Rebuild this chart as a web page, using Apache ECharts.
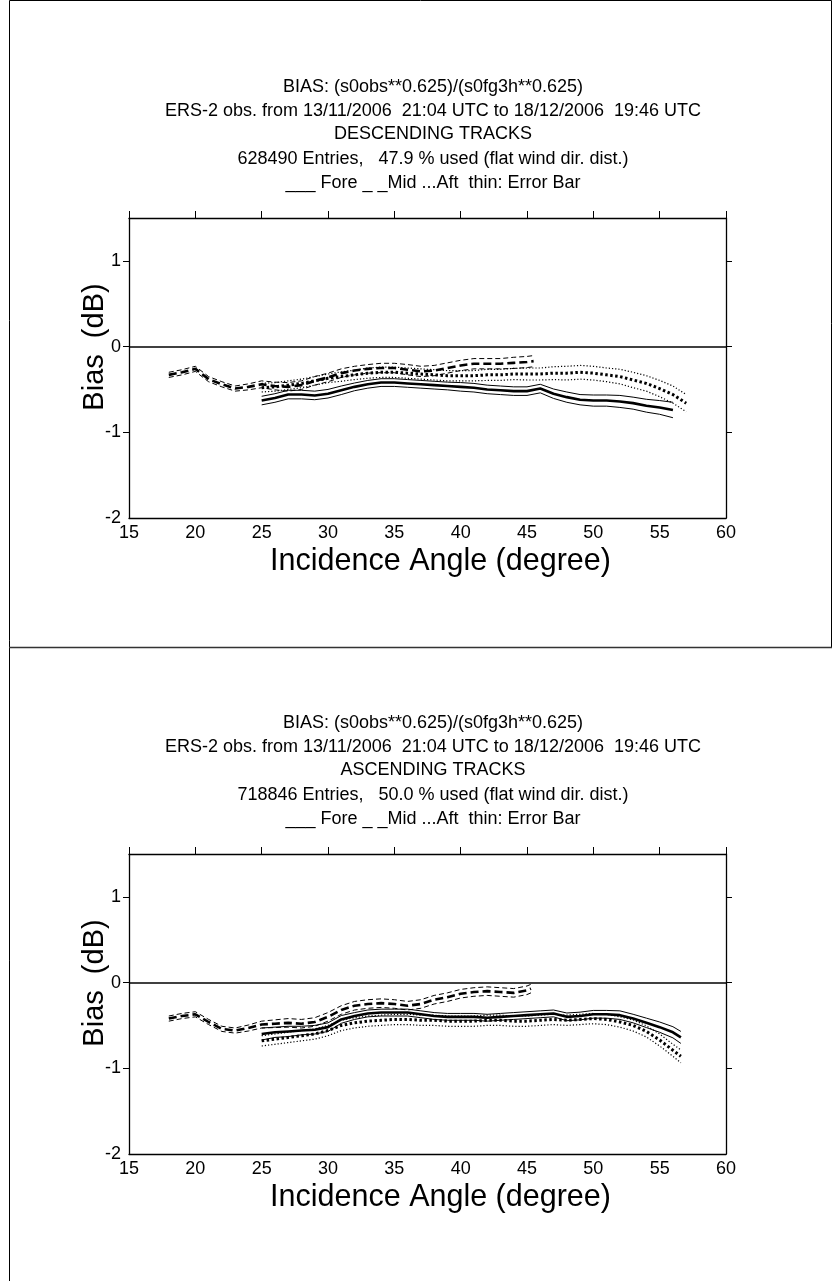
<!DOCTYPE html>
<html><head><meta charset="utf-8">
<script src="https://cdn.jsdelivr.net/npm/echarts@6/dist/echarts.min.js"></script>
<style>html,body{margin:0;padding:0;background:#fff}#c{width:832px;height:1281px}</style>
</head><body><div id="c"></div>
<script>
// ---------- data ----------
const xTickValues = [15, 20, 25, 30, 35, 40, 45, 50, 55, 60];
const yTickValues = [-2, -1, 0, 1];

const titleLinesCommon = ['BIAS: (s0obs**0.625)/(s0fg3h**0.625)',
  'ERS-2 obs. from 13/11/2006  21:04 UTC to 18/12/2006  19:46 UTC'];
const descTitle = ['DESCENDING TRACKS', '628490 Entries,   47.9 % used (flat wind dir. dist.)'];
const ascTitle = ['ASCENDING TRACKS', '718846 Entries,   50.0 % used (flat wind dir. dist.)'];
const legendLine = '___ Fore _ _Mid ...Aft  thin: Error Bar';
const xTitle = 'Incidence Angle (degree)';
const yTitle = 'Bias  (dB)';

// DESCENDING
const descForeX = [25,26,27,28,29,30,31,32,33,34,35,36,37,38,39,40,41,42,43,44,45,46,47,48,49,50,51,52,53,54,55,56];
const descForeY = [-0.63,-0.60,-0.56,-0.56,-0.57,-0.55,-0.51,-0.47,-0.44,-0.42,-0.42,-0.43,-0.44,-0.45,-0.46,-0.47,-0.48,-0.50,-0.51,-0.52,-0.52,-0.49,-0.55,-0.59,-0.62,-0.63,-0.63,-0.64,-0.66,-0.69,-0.71,-0.74];
const descForeErr = [0.05,0.05,0.05,0.05,0.05,0.05,0.05,0.045,0.045,0.045,0.045,0.045,0.045,0.045,0.045,0.05,0.05,0.05,0.05,0.05,0.05,0.05,0.055,0.06,0.06,0.065,0.065,0.07,0.07,0.075,0.08,0.09];

const descMidX = [18,19,20,21,22,23,24,25,26,27,28,29,30,31,32,33,34,35,36,37,38,39,40,41,42,43,44,45,45.5];
const descMidY = [-0.33,-0.30,-0.26,-0.38,-0.44,-0.49,-0.47,-0.44,-0.46,-0.47,-0.45,-0.40,-0.36,-0.31,-0.28,-0.26,-0.25,-0.25,-0.27,-0.29,-0.28,-0.25,-0.22,-0.20,-0.20,-0.20,-0.19,-0.18,-0.17];
const descMidErr = [0.03,0.03,0.03,0.03,0.03,0.03,0.035,0.04,0.045,0.05,0.05,0.05,0.05,0.05,0.05,0.05,0.055,0.055,0.06,0.06,0.06,0.06,0.06,0.06,0.06,0.06,0.065,0.065,0.065];

const descAftX = [25,26,27,28,29,30,31,32,33,34,35,36,37,38,39,40,41,42,43,44,45,46,47,48,49,50,51,52,53,54,55,56,57];
const descAftY = [-0.48,-0.47,-0.45,-0.43,-0.40,-0.37,-0.35,-0.33,-0.31,-0.30,-0.30,-0.31,-0.32,-0.33,-0.34,-0.34,-0.34,-0.33,-0.33,-0.32,-0.32,-0.32,-0.31,-0.31,-0.30,-0.31,-0.33,-0.35,-0.39,-0.43,-0.49,-0.56,-0.66];
const descAftErr = [0.05,0.05,0.05,0.05,0.05,0.05,0.055,0.055,0.06,0.06,0.06,0.06,0.06,0.06,0.06,0.06,0.06,0.065,0.065,0.065,0.07,0.07,0.075,0.08,0.08,0.08,0.08,0.085,0.09,0.09,0.095,0.1,0.1];

// ASCENDING
const ascForeX = [25,26,27,28,29,30,31,32,33,34,35,36,37,38,39,40,41,42,43,44,45,46,47,48,49,50,51,52,53,54,55,56,56.6];
const ascForeY = [-0.60,-0.58,-0.57,-0.56,-0.55,-0.52,-0.43,-0.39,-0.36,-0.35,-0.35,-0.35,-0.37,-0.39,-0.40,-0.40,-0.40,-0.41,-0.40,-0.39,-0.38,-0.37,-0.36,-0.40,-0.39,-0.37,-0.37,-0.38,-0.42,-0.47,-0.52,-0.58,-0.64];
const ascForeErr = [0.07,0.06,0.06,0.05,0.05,0.05,0.045,0.04,0.04,0.04,0.04,0.04,0.04,0.04,0.04,0.04,0.04,0.04,0.04,0.04,0.04,0.04,0.04,0.045,0.045,0.045,0.045,0.05,0.05,0.055,0.06,0.065,0.07];

const ascMidX = [18,19,20,21,22,23,24,25,26,27,28,29,30,31,32,33,34,35,36,37,38,39,40,41,42,43,44,45,45.3];
const ascMidY = [-0.42,-0.39,-0.37,-0.46,-0.54,-0.56,-0.53,-0.49,-0.48,-0.47,-0.48,-0.46,-0.40,-0.32,-0.27,-0.25,-0.24,-0.25,-0.27,-0.25,-0.20,-0.17,-0.13,-0.11,-0.10,-0.11,-0.12,-0.09,-0.07];
const ascMidErr = [0.03,0.03,0.03,0.03,0.03,0.03,0.035,0.04,0.045,0.05,0.05,0.05,0.05,0.05,0.05,0.05,0.05,0.05,0.05,0.05,0.05,0.05,0.05,0.05,0.05,0.05,0.05,0.05,0.05];

const ascAftX = [25,26,27,28,29,30,31,32,33,34,35,36,37,38,39,40,41,42,43,44,45,46,47,48,49,50,51,52,53,54,55,56,56.6];
const ascAftY = [-0.68,-0.66,-0.64,-0.62,-0.60,-0.56,-0.50,-0.47,-0.45,-0.44,-0.43,-0.43,-0.44,-0.44,-0.45,-0.45,-0.45,-0.44,-0.44,-0.45,-0.45,-0.44,-0.43,-0.44,-0.43,-0.42,-0.43,-0.46,-0.50,-0.57,-0.67,-0.79,-0.86];
const ascAftErr = [0.06,0.06,0.06,0.06,0.06,0.06,0.06,0.06,0.06,0.06,0.06,0.06,0.06,0.06,0.06,0.06,0.06,0.06,0.06,0.06,0.06,0.06,0.06,0.06,0.06,0.06,0.06,0.06,0.065,0.065,0.07,0.07,0.075];

// ---------- build ----------
const FONT = "'Liberation Sans', Arial, sans-serif";
const grids = [
  { top: 218, title: descTitle, beams: [
    {x: descForeX, y: descForeY, e: descForeErr, kind: 'solid'},
    {x: descMidX, y: descMidY, e: descMidErr, kind: 'dashed'},
    {x: descAftX, y: descAftY, e: descAftErr, kind: 'dotted'}]},
  { top: 854, title: ascTitle, beams: [
    {x: ascForeX, y: ascForeY, e: ascForeErr, kind: 'solid'},
    {x: ascMidX, y: ascMidY, e: ascMidErr, kind: 'dashed'},
    {x: ascAftX, y: ascAftY, e: ascAftErr, kind: 'dotted'}]}
];
const GL = 129, GW = 597, GH = 300;

const styleThick = {solid: {type: 'solid', width: 2.6}, dashed: {type: [8, 4], width: 2.6}, dotted: {type: [2.5, 2.5], width: 3}};
const styleThin = {solid: {type: 'solid', width: 1}, dashed: {type: [5, 3], width: 1}, dotted: {type: [1.2, 2], width: 1.2}};

const option = {
  animation: false,
  backgroundColor: '#fff',
  grid: [], xAxis: [], yAxis: [], series: [], graphic: []
};

grids.forEach((g, gi) => {
  option.grid.push({left: GL, top: g.top, width: GW, height: GH, containLabel: false});
  const lineSt = {color: '#000', width: 1.3};
  option.xAxis.push({type: 'value', gridIndex: gi, position: 'bottom', min: 15, max: 60, interval: 5,
    axisLine: {show: true, onZero: false, lineStyle: lineSt}, axisTick: {show: false},
    axisLabel: {color: '#000', fontSize: 18, fontFamily: FONT, margin: 6, customValues: xTickValues},
    splitLine: {show: false}});
  option.xAxis.push({type: 'value', gridIndex: gi, position: 'top', min: 15, max: 60, interval: 5,
    axisLine: {show: true, onZero: false, lineStyle: lineSt},
    axisTick: {show: true, inside: false, length: 7, lineStyle: {color: '#000', width: 1}, customValues: xTickValues},
    axisLabel: {show: false}, splitLine: {show: false}});
  option.yAxis.push({type: 'value', gridIndex: gi, position: 'left', min: -2, max: 1.5, interval: 1,
    axisLine: {show: true, onZero: false, lineStyle: lineSt},
    axisTick: {show: true, inside: false, length: 6, lineStyle: {color: '#000', width: 1}, customValues: [-1, 0, 1]},
    axisLabel: {color: '#000', fontSize: 18, fontFamily: FONT, margin: 8, customValues: yTickValues,
      formatter: v => (Number.isInteger(v) ? String(v) : '')},
    splitLine: {show: false}});
  option.yAxis.push({type: 'value', gridIndex: gi, position: 'right', min: -2, max: 1.5, interval: 1,
    axisLine: {show: true, onZero: false, lineStyle: lineSt},
    axisTick: {show: true, inside: false, length: 6, lineStyle: {color: '#000', width: 1}, customValues: [-1, 0, 1]},
    axisLabel: {show: false}, splitLine: {show: false}});

  const xi = gi * 2, yi = gi * 2;
  // zero line
  option.series.push({type: 'line', xAxisIndex: xi, yAxisIndex: yi, data: [], silent: true,
    markLine: {silent: true, symbol: 'none', label: {show: false},
      lineStyle: {color: '#000', width: 1.5, type: 'solid'}, data: [{yAxis: 0}]}});

  g.beams.forEach(b => {
    const center = b.x.map((xv, i) => [xv, b.y[i]]);
    const upper = b.x.map((xv, i) => [xv, +(b.y[i] + b.e[i]).toFixed(3)]);
    const lower = b.x.map((xv, i) => [xv, +(b.y[i] - b.e[i]).toFixed(3)]);
    [[upper, styleThin], [lower, styleThin], [center, styleThick]].forEach(([d, st]) => {
      option.series.push({type: 'line', xAxisIndex: xi, yAxisIndex: yi, data: d, showSymbol: false,
        symbol: 'none', silent: true, smooth: false,
        lineStyle: {color: '#000', width: st[b.kind].width, type: st[b.kind].type, cap: 'butt'}});
    });
  });

  // titles
  const lines = [titleLinesCommon[0], titleLinesCommon[1], g.title[0], g.title[1], legendLine];
  const offs = [-131, -107, -84, -59, -35];
  lines.forEach((t, k) => {
    option.graphic.push({type: 'text', x: 433, y: g.top + offs[k],
      style: {text: t, fill: '#000', font: '18px ' + FONT, textAlign: 'center', textVerticalAlign: 'middle'}});
  });
  // axis titles
  option.graphic.push({type: 'text', x: GL + GW / 2 + 13, y: g.top + GH + 44,
    style: {text: xTitle, fill: '#000', font: '30.5px ' + FONT, textAlign: 'center', textVerticalAlign: 'middle'}});
  option.graphic.push({type: 'text', x: 95, y: g.top + 129, rotation: Math.PI / 2,
    style: {text: yTitle, fill: '#000', font: '29px ' + FONT, textAlign: 'center', textVerticalAlign: 'middle'}});
});

// page frame
option.graphic.push({type: 'polyline', silent: true,
  shape: {points: [[9.5, 1281], [9.5, 0.5], [831.5, 0.5], [831.5, 647]]},
  style: {stroke: '#000', lineWidth: 1, fill: null}});
option.graphic.push({type: 'line', silent: true,
  shape: {x1: 9, y1: 647.5, x2: 832, y2: 647.5}, style: {stroke: '#333', lineWidth: 1.5}});

const chart = echarts.init(document.getElementById('c'), null, {renderer: 'canvas'});
chart.setOption(option);
</script>
</body></html>
